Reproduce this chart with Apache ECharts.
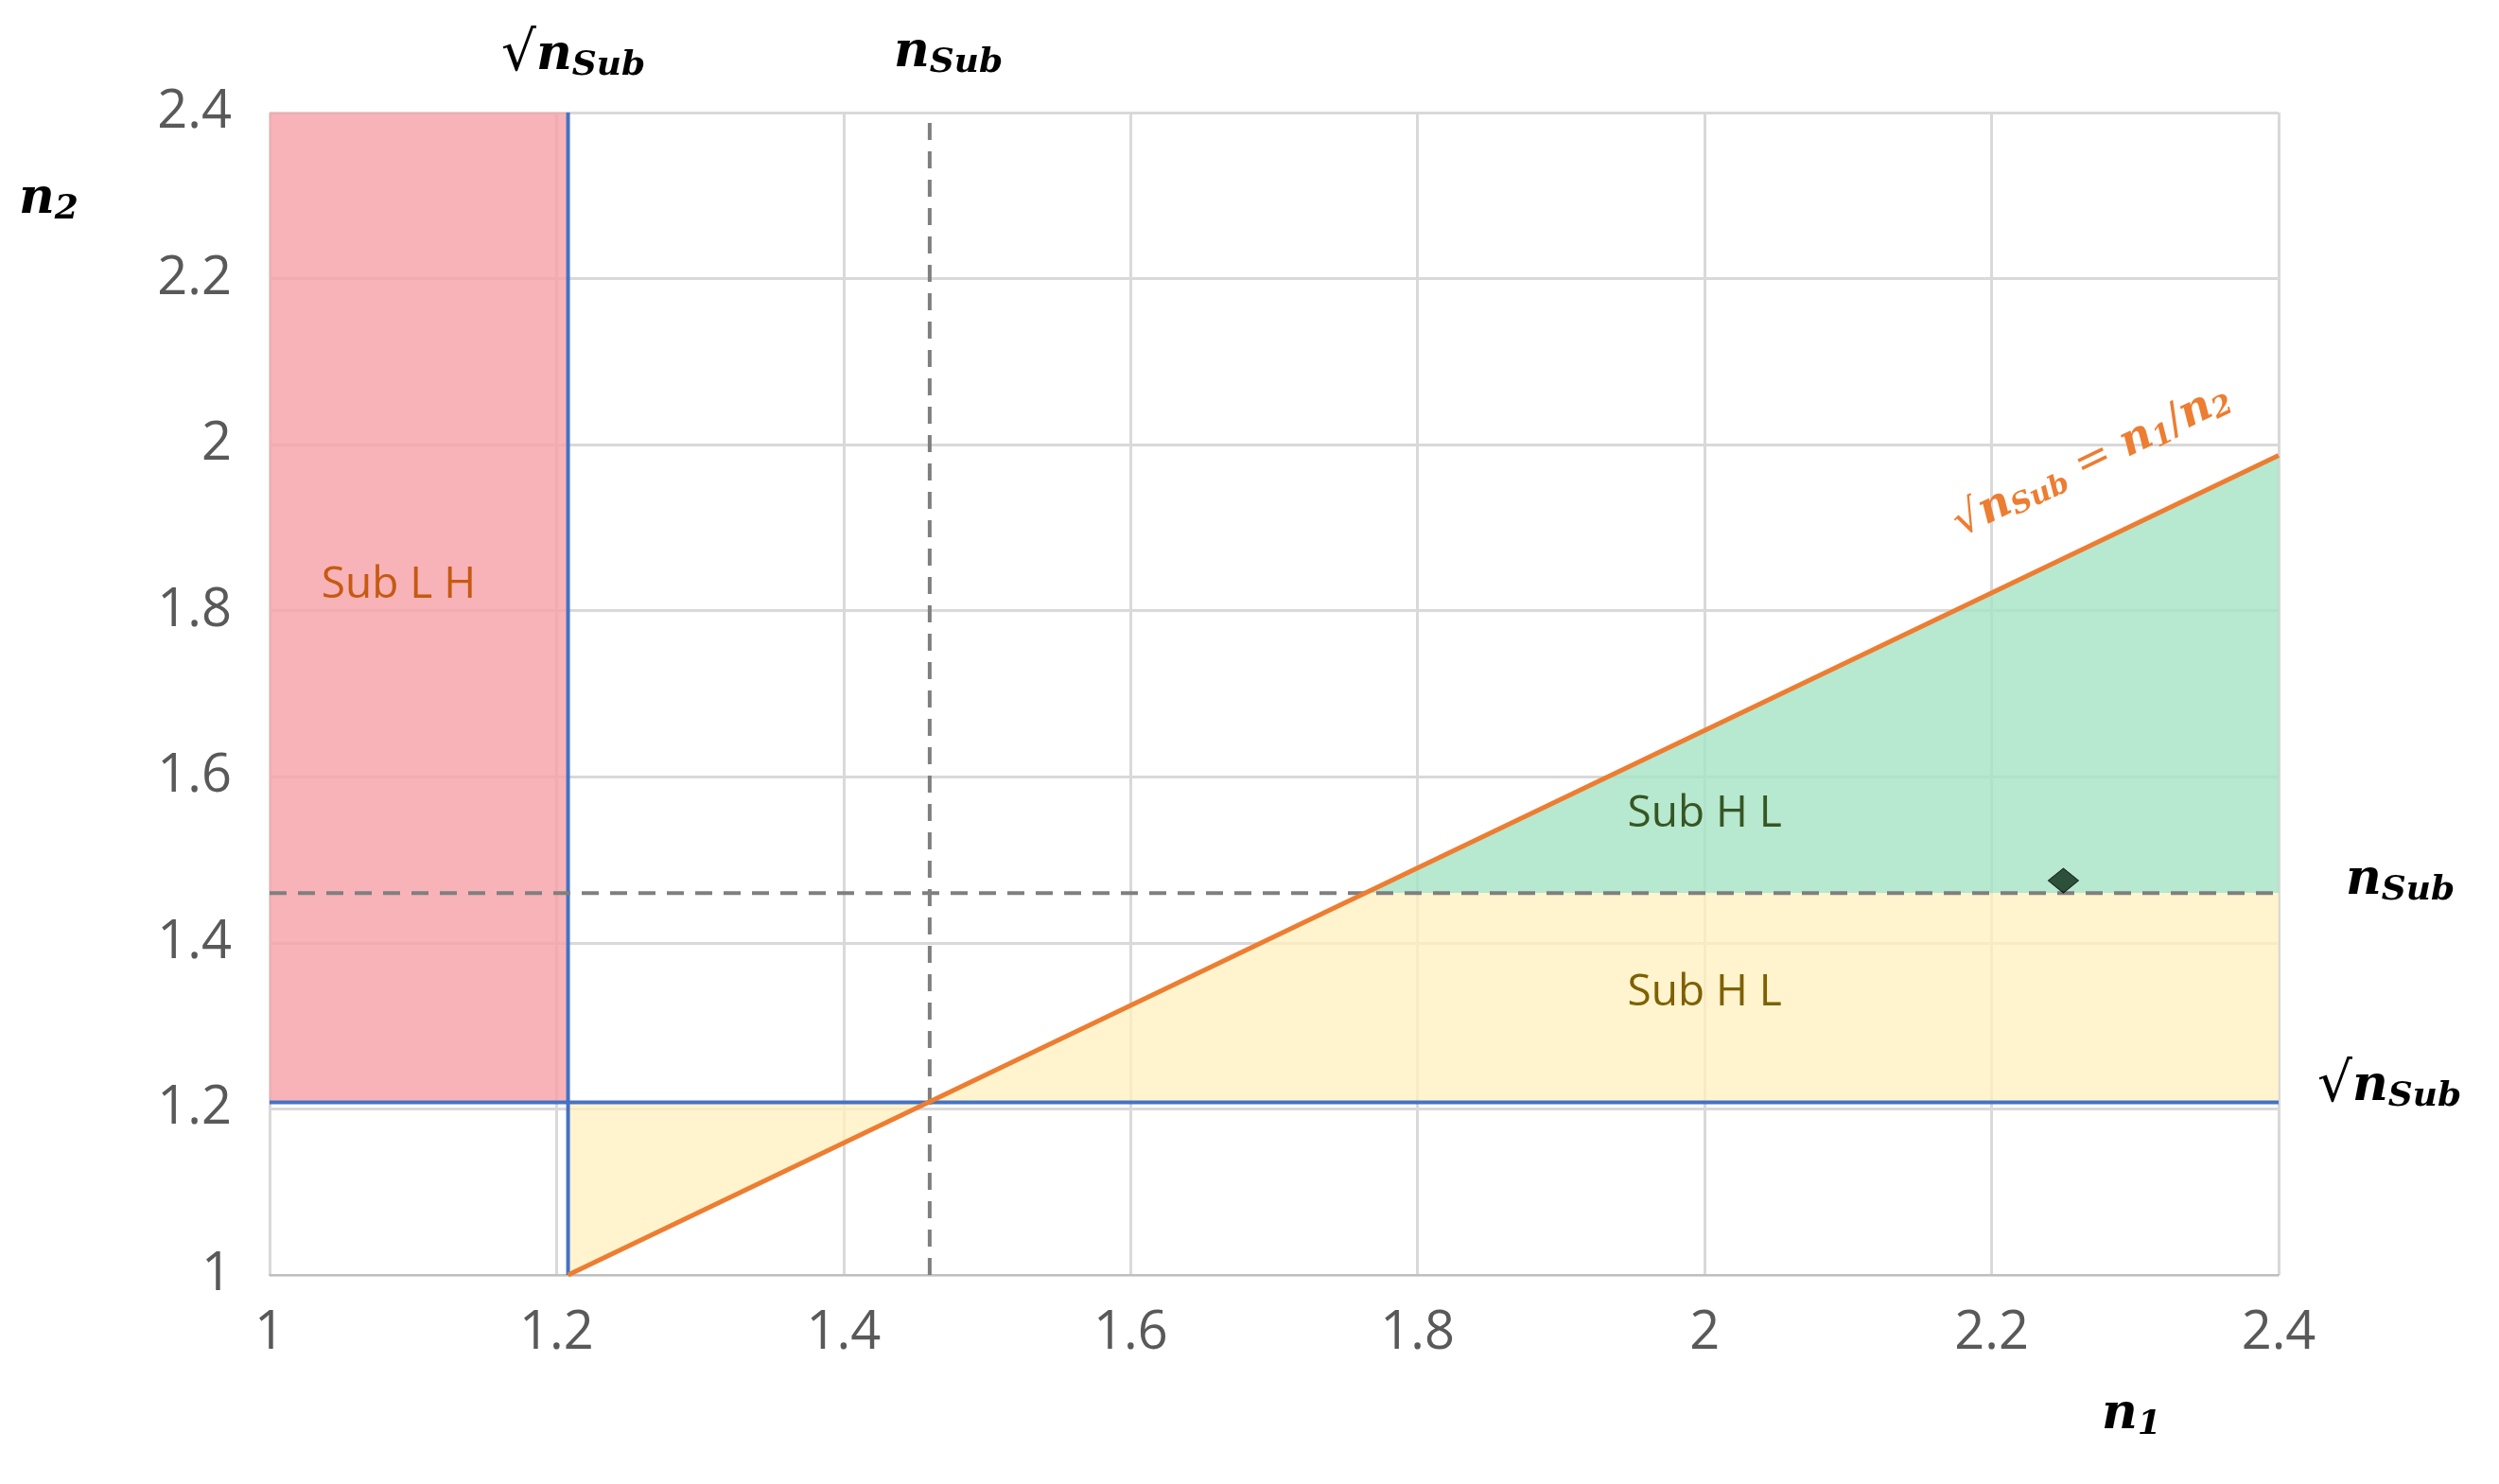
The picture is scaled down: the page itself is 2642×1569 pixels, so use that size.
<!DOCTYPE html>
<html>
<head>
<meta charset="utf-8">
<script src="https://cdn.jsdelivr.net/npm/echarts@6/dist/echarts.min.js"></script>
<style>html,body{margin:0;background:#fff}#main{width:2642px;height:1569px}</style>
</head>
<body>
<div id="main"></div>
<script>
// values
var nSub = 1.46;
var rootSub = 1.208;
var xTicks = [1, 1.2, 1.4, 1.6, 1.8, 2, 2.2, 2.4];
var yTicks = [1, 1.2, 1.4, 1.6, 1.8, 2, 2.2, 2.4];
var ratioLine = [[1.208, 1], [2.4, 1.987]];
var regionRed = [[1, 1.208], [1.208, 1.208], [1.208, 2.4], [1, 2.4]];
var regionGreen = [[1.764, 1.46], [2.4, 1.46], [2.4, 1.987]];
var regionYellowA = [[1.208, 1], [1.208, 1.208], [1.46, 1.208]];
var regionYellowB = [[1.46, 1.208], [2.4, 1.208], [2.4, 1.46], [1.764, 1.46]];
var point = [[2.25, 1.475]];
var regionLabels = [
  { text: 'Sub L H', pos: [1.09, 1.83], color: '#c55a11' },
  { text: 'Sub H L', pos: [2.0, 1.555], color: '#375623' },
  { text: 'Sub H L', pos: [2.0, 1.34], color: '#7f6000' }
];

var myChart = echarts.init(document.getElementById('main'));

function polySeries(pts, color) {
  return {
    type: 'custom',
    silent: true,
    z: 1,
    data: [0],
    renderItem: function (params, api) {
      return {
        type: 'polygon',
        shape: { points: pts.map(function (p) { return api.coord(p); }) },
        style: { fill: color }
      };
    }
  };
}

function lineSeries(data, color, width, type) {
  return {
    type: 'line',
    data: data,
    symbol: 'none',
    silent: true,
    z: 3,
    lineStyle: { color: color, width: width, type: type || 'solid' }
  };
}

var mathRich = {
  n: { fontFamily: 'DejaVu Serif', fontStyle: 'italic', fontWeight: 'bold', fontSize: 52, color: '#000' },
  s: { fontFamily: 'DejaVu Serif', fontStyle: 'italic', fontWeight: 'bold', fontSize: 36, color: '#000', padding: [22, 0, 0, 0] },
  r: { fontFamily: 'DejaVu Serif', fontSize: 58, color: '#000' }
};
function mathText(x, y, str) {
  return { type: 'text', left: x, top: y, style: { text: str, rich: mathRich } };
}

var option = {
  animation: false,
  grid: { left: 285, right: 233, top: 119, bottom: 221 },
  xAxis: {
    type: 'value', min: 1, max: 2.4, interval: 0.2,
    axisLine: { lineStyle: { color: '#bfbfbf', width: 2 } },
    axisTick: { show: false },
    axisLabel: { color: '#595959', fontSize: 56, fontFamily: 'Open Sans', margin: 34 },
    splitLine: { lineStyle: { color: '#d9d9d9', width: 3 } }
  },
  yAxis: {
    type: 'value', min: 1, max: 2.4, interval: 0.2,
    axisLine: { show: false },
    axisTick: { show: false },
    axisLabel: { color: '#595959', fontSize: 56, fontFamily: 'Open Sans', margin: 40 },
    splitLine: { lineStyle: { color: '#d9d9d9', width: 3 } }
  },
  series: [
    polySeries(regionRed, 'rgba(246,160,166,0.8)'),
    polySeries(regionGreen, 'rgba(165,226,196,0.8)'),
    polySeries(regionYellowA, 'rgba(255,240,190,0.75)'),
    polySeries(regionYellowB, 'rgba(255,240,190,0.75)'),
    lineSeries([[rootSub, 1], [rootSub, 2.4]], '#4472c4', 4),
    lineSeries([[1, rootSub], [2.4, rootSub]], '#4472c4', 4),
    lineSeries([[nSub, 1], [nSub, 2.4]], '#7f7f7f', 4, [18, 12]),
    lineSeries([[1, nSub], [2.4, nSub]], '#7f7f7f', 4, [18, 12]),
    lineSeries(ratioLine, '#ed7d31', 5),
    {
      type: 'scatter', data: point, symbol: 'diamond', symbolSize: [32, 26], z: 5,
      itemStyle: { color: '#0b2a17', borderColor: '#000', borderWidth: 1 }
    },
    {
      type: 'custom', silent: true, z: 6,
      data: regionLabels.map(function (d, i) { return i; }),
      renderItem: function (params, api) {
        var d = regionLabels[params.dataIndex];
        var c = api.coord(d.pos);
        return {
          type: 'text', x: c[0], y: c[1],
          style: { text: d.text, fill: d.color, fontSize: 46, fontFamily: 'Open Sans', align: 'center', verticalAlign: 'middle' }
        };
      }
    },
    {
      type: 'custom', silent: true, z: 6,
      data: [0],
      renderItem: function (params, api) {
        var c = api.coord([2.27, 1.98]);
        return {
          type: 'text', x: c[0], y: c[1], rotation: 25.6 * Math.PI / 180,
          style: {
            text: '{r|√}{n|n}{s|Sub}{r| = }{n|n}{s|1}{r|/}{n|n}{s|2}',
            align: 'center', verticalAlign: 'middle',
            rich: {
              r: { fontFamily: 'DejaVu Serif', fontSize: 46, fill: '#ed7d31' },
              n: { fontFamily: 'DejaVu Serif', fontStyle: 'italic', fontWeight: 'bold', fontSize: 46, fill: '#ed7d31' },
              s: { fontFamily: 'DejaVu Serif', fontStyle: 'italic', fontWeight: 'bold', fontSize: 30, fill: '#ed7d31', padding: [18, 0, 0, 0] }
            }
          }
        };
      }
    }
  ],
  graphic: [
    mathText(20, 185, '{n|n}{s|2}'),
    mathText(2222, 1470, '{n|n}{s|1}'),
    mathText(530, 30, '{r|√}{n|n}{s|Sub}'),
    mathText(945, 30, '{n|n}{s|Sub}'),
    mathText(2480, 905, '{n|n}{s|Sub}'),
    mathText(2450, 1120, '{r|√}{n|n}{s|Sub}')
  ]
};

myChart.setOption(option);
</script>
</body>
</html>
